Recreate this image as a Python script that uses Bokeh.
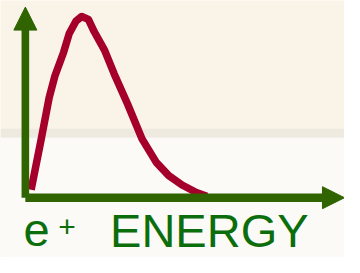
from bokeh.plotting import figure
from bokeh.models import Range1d, Arrow, NormalHead, Label, BoxAnnotation
from bokeh.embed import file_html
from bokeh.resources import INLINE

# Spectrum (arbitrary units: endpoint energy = 1, peak = 1)
energy = [0.032, 0.085, 0.132, 0.164, 0.212, 0.243, 0.280, 0.312, 0.349, 0.381,
          0.439, 0.492, 0.566, 0.646, 0.725, 0.794, 0.868, 0.947, 1.005]
intensity = [0.044, 0.309, 0.553, 0.673, 0.803, 0.906, 0.974, 1.000, 0.984, 0.917,
             0.813, 0.683, 0.517, 0.325, 0.195, 0.122, 0.070, 0.029, 0.008]

axis_label_main = "e"
axis_label_sup = "+"
axis_label_rest = "ENERGY"

X_AXIS_END = 1.767
Y_AXIS_END = 1.052

GREEN = "#2f6400"
RED = "#a4002b"
TEXT_GREEN = "#0b6d0b"
BG = "#f9f4e7"
BG_LOW = "#fbfaf6"
BAND = "#cfcac2"

p = figure(width=344, height=257,
           x_range=Range1d(-0.1376, 1.7672), y_range=Range1d(-0.3299, 1.0883),
           output_backend="svg", toolbar_location=None, min_border=0,
           x_axis_location=None, y_axis_location=None)
p.grid.visible = False
p.outline_line_color = None
p.background_fill_color = BG
p.border_fill_color = BG

# faded backdrop: lighter lower part and a soft grey band
p.add_layout(BoxAnnotation(top=0.335, fill_color=BG_LOW, fill_alpha=1.0,
                           line_color=None, level="underlay"))
p.add_layout(BoxAnnotation(bottom=0.33, top=0.38, fill_color=BAND, fill_alpha=0.22,
                           line_color=None, level="underlay"))

# axes with arrows
p.add_layout(Arrow(x_start=0, y_start=0, x_end=0, y_end=Y_AXIS_END,
                   line_width=7.6, line_color=GREEN,
                   end=NormalHead(size=23, fill_color=GREEN, line_color=GREEN, line_width=1)))
p.add_layout(Arrow(x_start=0, y_start=0, x_end=X_AXIS_END, y_end=0,
                   line_width=8.5, line_color=GREEN,
                   end=NormalHead(size=22, fill_color=GREEN, line_color=GREEN, line_width=1)))

p.line(energy, intensity, line_width=7.5, line_color=RED, line_cap="butt", line_join="round")

p.add_layout(Label(x=23, y=27.5, x_units="screen", y_units="screen", text=axis_label_main,
                   text_font="Liberation Sans", text_font_size="47px", text_color=TEXT_GREEN,
                   text_baseline="alphabetic"))
p.add_layout(Label(x=66.5, y=31, x_units="screen", y_units="screen", text=axis_label_sup,
                   text_font="Liberation Sans", text_font_size="30px", text_color=TEXT_GREEN,
                   text_baseline="alphabetic", text_align="center"))
p.add_layout(Label(x=208.8, y=27.5, x_units="screen", y_units="screen", text=axis_label_rest,
                   text_font="Liberation Sans", text_font_size="47px", text_color=TEXT_GREEN,
                   text_baseline="alphabetic", text_align="center"))

open("out.html", "w").write(file_html(p, INLINE))
